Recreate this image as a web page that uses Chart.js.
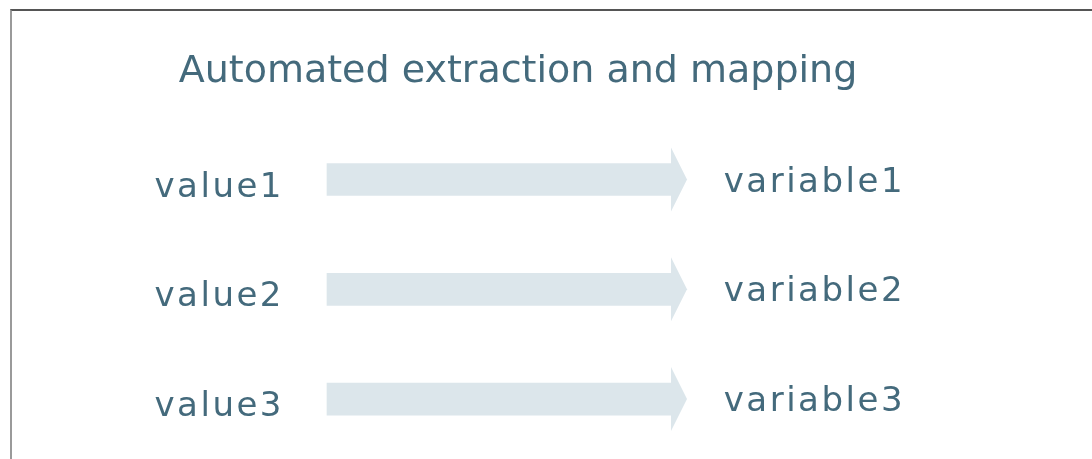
<!DOCTYPE html>
<html>
<head>
<meta charset="utf-8">
<script src="https://cdn.jsdelivr.net/npm/chart.js@4.4.1/dist/chart.umd.min.js"></script>
<style>
  html, body { margin: 0; padding: 0; background: #fff; }
  #wrap { position: relative; width: 1092px; height: 459px; overflow: hidden; }
  #frame {
    position: absolute; left: 10px; top: 9px; width: 1200px; height: 600px;
    border-top: 2px solid #555; border-left: 2px solid #9a9a9a;
  }
  canvas { position: absolute; left: 0; top: 0; }
</style>
</head>
<body>
<div id="wrap">
  <div id="frame"></div>
  <canvas id="myChart" width="1092" height="459"></canvas>
</div>
<script>
// Source values on the left, target variables on the right
var values = ['value1', 'value2', 'value3'];
var variables = ['variable1', 'variable2', 'variable3'];
// Each arrow runs from the value (0) to the variable (1)
var mapping = [[0, 1], [0, 1], [0, 1]];

var textColor = '#446a7c';
var arrowColor = '#dce6eb';

// Draws the arrow heads and the text at both ends of each arrow
var mappingLabels = {
  id: 'mappingLabels',
  afterDatasetsDraw: function(chart, args, opts) {
    var ctx = chart.ctx;
    var xScale = chart.scales.x;
    var bars = chart.getDatasetMeta(0).data;
    ctx.save();
    bars.forEach(function(bar, i) {
      // arrow head
      ctx.fillStyle = arrowColor;
      ctx.beginPath();
      ctx.moveTo(bar.x - 1, bar.y - opts.headHalf);
      ctx.lineTo(bar.x + opts.headLength, bar.y);
      ctx.lineTo(bar.x - 1, bar.y + opts.headHalf);
      ctx.closePath();
      ctx.fill();

      ctx.fillStyle = textColor;
      ctx.font = opts.font;
      ctx.letterSpacing = opts.letterSpacing;
      ctx.textAlign = 'left';
      ctx.textBaseline = 'alphabetic';
      ctx.fillText(values[i], xScale.getPixelForValue(opts.valueX), bar.y + opts.valueDrop);
      ctx.fillText(variables[i], xScale.getPixelForValue(opts.variableX), bar.y + opts.variableDrop);
    });
    ctx.restore();
  }
};

var ctx = document.getElementById('myChart').getContext('2d');
var myChart = new Chart(ctx, {
  type: 'bar',
  data: {
    labels: values,
    datasets: [{
      data: mapping,
      backgroundColor: arrowColor,
      borderWidth: 0,
      barThickness: 32
    }]
  },
  plugins: [mappingLabels],
  options: {
    indexAxis: 'y',
    responsive: false,
    animation: false,
    layout: {
      padding: { top: 0, bottom: 5, left: 0, right: 56 }
    },
    scales: {
      x: { type: 'linear', min: -0.9478, max: 2.0551, display: false },
      y: { display: false }
    },
    plugins: {
      legend: { display: false },
      tooltip: { enabled: false },
      title: {
        display: true,
        text: 'Automated extraction and mapping',
        color: textColor,
        font: { family: 'DejaVu Sans', size: 38, weight: 'normal', lineHeight: 1.2 },
        padding: { top: 49, bottom: 30 }
      },
      mappingLabels: {
        font: '34px "DejaVu Sans"',
        letterSpacing: '2.5px',
        valueX: -0.5,
        variableX: 1.15,
        valueDrop: 17,
        variableDrop: 12,
        headHalf: 32,
        headLength: 15
      }
    }
  }
});
</script>
</body>
</html>
